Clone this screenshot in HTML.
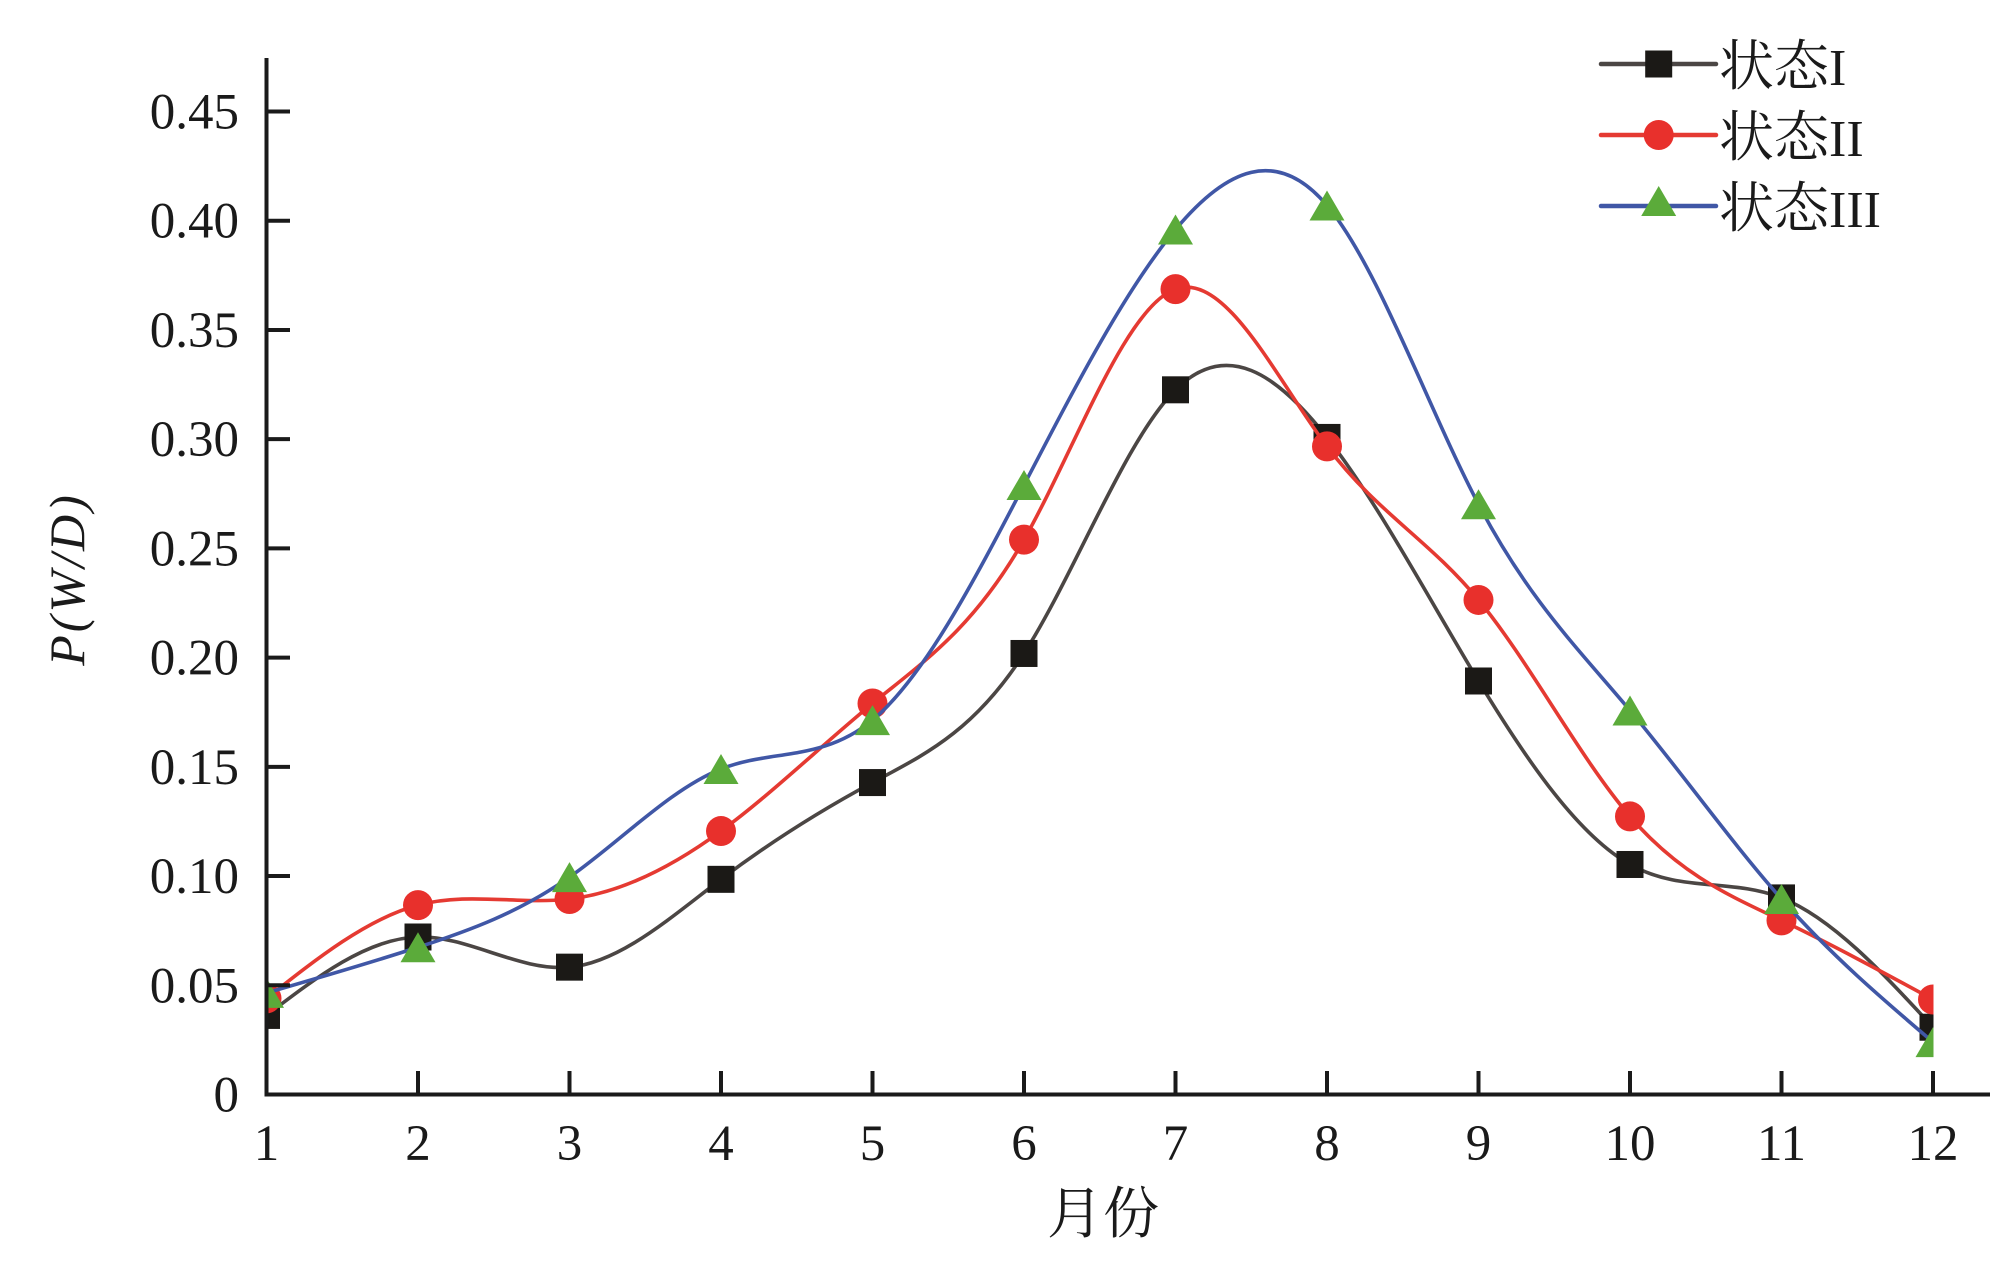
<!DOCTYPE html>
<html>
<head>
<meta charset="utf-8">
<style>
  html, body { margin:0; padding:0; background:#ffffff; }
  svg { display:block; }
  .tick { font-family: "Liberation Serif", "Times New Roman", serif; font-size:51px; fill:#1a1a1a; }
  .cjk { font-family: "Liberation Serif", "Noto Serif CJK SC", "Noto Sans CJK SC", serif; fill:#1a1a1a; }
</style>
</head>
<body>
<svg id="chart" width="2008" height="1264" viewBox="0 0 2008 1264" xmlns="http://www.w3.org/2000/svg">
  <rect x="0" y="0" width="2008" height="1264" fill="#ffffff"/>
  <defs>
    <clipPath id="plotclip"><rect x="266.5" y="0" width="1667" height="1094"/></clipPath>
  </defs>

  <!-- series -->
  <g clip-path="url(#plotclip)" id="series"></g>

  <!-- axes -->
  <g stroke="#1a1a1a" stroke-width="4" fill="none">
    <line x1="266.5" y1="58" x2="266.5" y2="1096.5"/>
    <line x1="264.5" y1="1094.5" x2="1990" y2="1094.5"/>
  </g>
  <g id="ticks" stroke="#1a1a1a" stroke-width="4"></g>
  <g id="ticklabels"></g>

  <!-- axis titles -->
  <text transform="translate(84,579) rotate(-90)" text-anchor="middle"
        style="font-family:'Liberation Serif','Times New Roman',serif;font-style:italic;font-size:50px;letter-spacing:3px;fill:#1a1a1a;">P(W/D)</text>
  <text x="1103" y="1233" text-anchor="middle" class="cjk" font-size="56">月份</text>

  <!-- legend -->
  <g stroke-linecap="round">
    <line x1="1601" y1="64" x2="1716" y2="64" stroke="#4b4644" stroke-width="4.5"/>
    <rect x="1645.2" y="50.5" width="27" height="27" fill="#1b1916"/>
    <line x1="1601" y1="135" x2="1716" y2="135" stroke="#e53a32" stroke-width="4.5"/>
    <circle cx="1658.7" cy="135" r="15" fill="#e8302c"/>
    <line x1="1601" y1="206" x2="1716" y2="206" stroke="#4057a6" stroke-width="4.5"/>
    <polygon points="1658.7,186 1676.2,216 1641.2,216" fill="#5bab3a"/>
  </g>
  <text x="1719" y="85" class="cjk"><tspan font-size="55">状态</tspan><tspan font-size="52" style="font-family:'Liberation Serif',serif">I</tspan></text>
  <text x="1719" y="156" class="cjk"><tspan font-size="55">状态</tspan><tspan font-size="52" style="font-family:'Liberation Serif',serif">II</tspan></text>
  <text x="1719" y="227" class="cjk"><tspan font-size="55">状态</tspan><tspan font-size="52" style="font-family:'Liberation Serif',serif">III</tspan></text>
</svg>

<script>
(function(){
  var NS = "http://www.w3.org/2000/svg";
  function X(m){ return 266.5 + (m-1)*151.5; }
  function Y(v){ return 1094.5 - v*2184.4; }
  function el(tag, attrs, parent){
    var e = document.createElementNS(NS, tag);
    for (var k in attrs) e.setAttribute(k, attrs[k]);
    if (parent) parent.appendChild(e);
    return e;
  }

  // ticks
  var ticks = document.getElementById('ticks');
  var labels = document.getElementById('ticklabels');
  var yl = ["0","0.05","0.10","0.15","0.20","0.25","0.30","0.35","0.40","0.45"];
  for (var i=0;i<yl.length;i++){
    var v = i*0.05, y = Y(v);
    if (i>0) el('line',{x1:266.5,y1:y,x2:290,y2:y},ticks);
    var t = el('text',{x:239,y:y+17,'text-anchor':'end','class':'tick'},labels);
    t.textContent = yl[i];
  }
  for (var m=1;m<=12;m++){
    var x = X(m);
    if (m>1) el('line',{x1:x,y1:1071,x2:x,y2:1094.5},ticks);
    var t2 = el('text',{x:x,y:1160,'text-anchor':'middle','class':'tick'},labels);
    t2.textContent = String(m);
  }

  // natural cubic spline -> bezier path
  function splinePath(ys){
    var n = ys.length;
    var M = new Array(n).fill(0);
    var a=[],b=[],c=[],d=[];
    for (var i=1;i<n-1;i++){
      a.push(1); b.push(4); c.push(1);
      d.push(6*(ys[i+1]-2*ys[i]+ys[i-1]));
    }
    var k = d.length;
    for (var i=1;i<k;i++){
      var w = a[i]/b[i-1];
      b[i] -= w*c[i-1];
      d[i] -= w*d[i-1];
    }
    var sol = new Array(k);
    sol[k-1] = d[k-1]/b[k-1];
    for (var i=k-2;i>=0;i--) sol[i] = (d[i]-c[i]*sol[i+1])/b[i];
    for (var i=0;i<k;i++) M[i+1] = sol[i];

    var dx = 151.5;
    var p = "M" + X(1).toFixed(2) + "," + Y(ys[0]).toFixed(2);
    for (var i=0;i<n-1;i++){
      var y0=ys[i], y1=ys[i+1];
      var d0 = (y1-y0) - M[i]/3 - M[i+1]/6;
      var d1 = (y1-y0) + M[i]/6 + M[i+1]/3;
      var x0 = X(i+1), x1 = X(i+2);
      var c1x = x0 + dx/3, c1y = Y(y0 + d0/3);
      var c2x = x1 - dx/3, c2y = Y(y1 - d1/3);
      p += " C" + c1x.toFixed(2)+","+c1y.toFixed(2)+" "+c2x.toFixed(2)+","+c2y.toFixed(2)+" "+x1.toFixed(2)+","+Y(y1).toFixed(2);
    }
    return p;
  }

  var s1 = [0.0362, 0.0721, 0.0583, 0.0985, 0.1428, 0.2019, 0.3226, 0.3008, 0.1893, 0.1053, 0.0900, 0.0308];
  var s2 = [0.0440, 0.0867, 0.0895, 0.1206, 0.1790, 0.2540, 0.3687, 0.2967, 0.2264, 0.1273, 0.0797, 0.0435];
  var s3 = [0.0465, 0.0674, 0.0995, 0.1490, 0.1714, 0.2790, 0.3960, 0.4070, 0.2702, 0.1758, 0.0895, 0.0240];

  var g = document.getElementById('series');

  el('path',{d:splinePath(s1),fill:'none',stroke:'#4b4644','stroke-width':3.6,'stroke-linejoin':'round'},g);
  for (var i=0;i<12;i++){
    el('rect',{x:X(i+1)-13.5,y:Y(s1[i])-13.5,width:27,height:27,fill:'#1b1916'},g);
  }
  el('path',{d:splinePath(s2),fill:'none',stroke:'#e53a32','stroke-width':3.6,'stroke-linejoin':'round'},g);
  for (var i=0;i<12;i++){
    el('circle',{cx:X(i+1),cy:Y(s2[i]),r:15,fill:'#e8302c'},g);
  }
  el('path',{d:splinePath(s3),fill:'none',stroke:'#4057a6','stroke-width':3.6,'stroke-linejoin':'round'},g);
  for (var i=0;i<12;i++){
    var cx = X(i+1), cy = Y(s3[i]);
    el('polygon',{points:cx+","+(cy-15)+" "+(cx+17.5)+","+(cy+15)+" "+(cx-17.5)+","+(cy+15),fill:'#5bab3a'},g);
  }
})();
</script>
</body>
</html>
